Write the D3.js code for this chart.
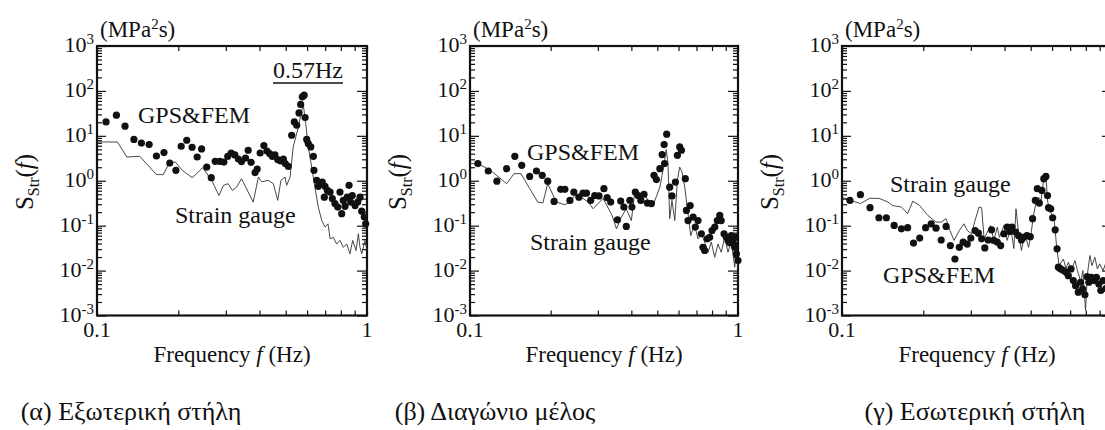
<!DOCTYPE html>
<html>
<head>
<meta charset="utf-8">
<script src="https://cdn.jsdelivr.net/npm/d3@7"></script>
<style>
  body { margin: 0; background: #fff; }
</style>
</head>
<body>
<script>
// x tick values (Hz) and y decades
var xTicks = [0.1, 0.2, 0.3, 0.4, 0.5, 0.6, 0.7, 0.8, 0.9, 1];
var yExps = [-3, -2, -1, 0, 1, 2, 3];
var captions = ['(α) Εξωτερική στήλη', '(β) Διαγώνιο μέλος', '(γ) Εσωτερική στήλη'];

// (α) outer column: [frequency Hz, S MPa^2 s]
var gpsA = [[0.108,20.4],[0.118,28.8],[0.127,16.4],[0.137,8.3],[0.146,6.9],[0.156,6.4],[0.166,3.56],[0.177,4.24],
  [0.186,2.48],[0.196,1.71],[0.205,5.86],[0.215,7.97],[0.225,5.57],[0.235,3.38],[0.244,5.1],[0.255,2.02],[0.265,1.17],
  [0.274,2.71],[0.285,2.71],[0.295,2.61],[0.305,3.5],[0.314,4.15],[0.324,3.75],[0.334,3.05],[0.343,2.67],[0.355,3.21],
  [0.363,4.77],[0.372,2.57],[0.385,1.52],[0.392,1.82],[0.402,4.15],[0.415,6.07],[0.426,4.6],[0.436,4.03],[0.446,3.5],
  [0.456,3.75],[0.467,2.96],[0.479,2.75],[0.49,3.05],[0.498,2.41],[0.511,2.09],[0.526,10.3],[0.538,20.4],[0.549,17.2],
  [0.56,32.4],[0.568,50],[0.576,73.8],[0.585,80.5],[0.59,25.6],[0.598,8.3],[0.606,6.73],[0.619,5.65],[0.633,3.5],
  [0.636,1.71],[0.651,1.02],[0.66,0.75],[0.67,0.86],[0.683,0.935],[0.695,0.43],[0.699,0.75],[0.713,0.61],[0.73,0.56],
  [0.744,0.40],[0.761,0.31],[0.779,0.26],[0.794,0.56],[0.806,0.185],[0.817,0.365],[0.829,0.27],[0.845,0.43],[0.858,0.79],
  [0.87,0.335],[0.882,0.47],[0.903,0.28],[0.924,0.335],[0.942,0.43],[0.956,0.21],[0.977,0.155],[0.989,0.11]];
var sgA = [[0.1,7.3],[0.119,7.3],[0.129,3.38],[0.144,3.5],[0.166,1.37],[0.176,1.37],[0.185,2.48],[0.195,2.61],[0.207,1.71],
  [0.225,1.17],[0.234,1.44],[0.246,1.96],[0.266,1.02],[0.283,0.47],[0.294,0.79],[0.306,0.86],[0.317,0.61],[0.329,0.72],
  [0.343,1.11],[0.379,0.335],[0.396,1.21],[0.407,0.95],[0.431,1.02],[0.45,0.86],[0.467,0.365],[0.48,1.02],[0.497,1.21],
  [0.504,0.79],[0.519,1.21],[0.533,5.65],[0.557,15.8],[0.573,37.3],[0.581,48.2],[0.593,18.8],[0.606,5.65],[0.627,1.71],
  [0.644,0.61],[0.66,0.26],[0.68,0.13],[0.699,0.093],[0.717,0.11],[0.73,0.051],[0.75,0.055],[0.772,0.039],[0.794,0.047],
  [0.817,0.033],[0.841,0.039],[0.865,0.0236],[0.885,0.047],[0.911,0.028],[0.929,0.066],[0.942,0.033],[0.956,0.0236],
  [0.983,0.047],[1.0,0.028]];

// (β) diagonal member
var gpsB = [[0.107,2.41],[0.117,1.65],[0.126,0.98],[0.137,1.86],[0.147,3.5],[0.156,2.21],[0.167,1.25],[0.177,1.65],
  [0.186,1.32],[0.195,0.98],[0.206,0.347],[0.218,0.643],[0.226,0.643],[0.236,0.365],[0.244,0.56],[0.255,0.43],[0.264,0.53],
  [0.272,0.53],[0.282,0.365],[0.292,0.47],[0.303,0.46],[0.316,0.667],[0.325,0.42],[0.335,0.335],[0.355,0.135],[0.365,0.352],
  [0.375,0.26],[0.383,0.096],[0.395,0.365],[0.402,0.26],[0.414,0.56],[0.424,0.47],[0.434,0.365],[0.446,0.50],[0.459,0.318],
  [0.475,0.31],[0.486,1.32],[0.496,1.06],[0.511,1.86],[0.521,3.83],[0.530,6.4],[0.532,2.41],[0.542,10.9],[0.556,0.72],
  [0.567,0.46],[0.584,0.935],[0.594,3.69],[0.606,5.65],[0.615,4.77],[0.636,1.11],[0.642,0.218],[0.651,0.13],[0.663,0.28],
  [0.68,0.155],[0.693,0.093],[0.709,0.13],[0.73,0.066],[0.74,0.033],[0.751,0.028],[0.768,0.051],[0.784,0.055],[0.80,0.078],
  [0.819,0.093],[0.837,0.13],[0.855,0.169],[0.866,0.13],[0.887,0.066],[0.905,0.055],[0.918,0.047],[0.93,0.042],[0.944,0.06],
  [0.95,0.05],[0.958,0.047],[0.965,0.038],[0.972,0.033],[0.978,0.055],[0.986,0.0236],[1.0,0.0167]];
var sgB = [[0.1,2.48],[0.11,2.21],[0.119,1.71],[0.129,1.16],[0.137,0.86],[0.146,1.44],[0.155,1.44],[0.167,0.667],
  [0.179,0.335],[0.187,0.32],[0.195,0.86],[0.21,0.335],[0.226,0.293],[0.236,0.335],[0.246,0.47],[0.26,0.43],[0.276,0.335],
  [0.288,0.238],[0.30,0.31],[0.314,0.40],[0.339,0.169],[0.352,0.085],[0.367,0.155],[0.383,0.238],[0.40,0.13],[0.412,0.56],
  [0.43,0.47],[0.449,0.50],[0.468,0.31],[0.482,0.28],[0.497,0.46],[0.511,0.72],[0.525,1.71],[0.54,4.95],[0.548,2.41],
  [0.556,0.143],[0.567,0.365],[0.581,0.13],[0.594,1.02],[0.606,2.02],[0.618,1.56],[0.633,0.72],[0.651,0.185],[0.666,0.06],
  [0.68,0.085],[0.697,0.078],[0.709,0.051],[0.73,0.066],[0.751,0.043],[0.773,0.0256],[0.795,0.043],[0.819,0.0198],
  [0.842,0.039],[0.866,0.0256],[0.892,0.055],[0.918,0.0256],[0.944,0.047],[0.972,0.0119],[0.989,0.028],[1.0,0.01]];

// (γ) inner column
var gpsC = [[0.107,0.365],[0.117,0.49],[0.127,0.251],[0.137,0.15],[0.146,0.15],[0.156,0.101],[0.166,0.085],[0.175,0.09],
  [0.184,0.041],[0.194,0.053],[0.204,0.09],[0.214,0.11],[0.223,0.088],[0.233,0.048],[0.243,0.096],[0.252,0.036],
  [0.262,0.018],[0.272,0.033],[0.281,0.043],[0.291,0.039],[0.30,0.053],[0.311,0.078],[0.32,0.068],[0.329,0.051],
  [0.338,0.032],[0.348,0.048],[0.358,0.081],[0.365,0.047],[0.376,0.043],[0.387,0.036],[0.398,0.066],[0.409,0.093],
  [0.418,0.074],[0.426,0.093],[0.439,0.072],[0.451,0.06],[0.462,0.048],[0.471,0.055],[0.484,0.06],[0.498,0.057],
  [0.508,0.143],[0.52,0.365],[0.529,0.667],[0.538,0.318],[0.55,0.61],[0.559,1.11],[0.569,1.25],[0.577,0.47],[0.582,0.251],
  [0.593,0.238],[0.603,0.15],[0.616,0.081],[0.626,0.0305],[0.633,0.0119],[0.646,0.0109],[0.661,0.01],[0.676,0.0092],
  [0.689,0.0077],[0.705,0.0109],[0.719,0.006],[0.733,0.0046],[0.75,0.0033],[0.765,0.0055],[0.778,0.0039],[0.794,0.0029],
  [0.809,0.0073],[0.821,0.0055],[0.839,0.0071],[0.859,0.006],[0.876,0.0071],[0.894,0.005],[0.909,0.0036],[0.927,0.006],
  [0.95,0.004],[0.97,0.005]];
var sgC = [[0.1,0.425],[0.117,0.31],[0.127,0.41],[0.138,0.40],[0.148,0.335],[0.154,0.28],[0.166,0.26],[0.175,0.185],
  [0.183,0.352],[0.194,0.28],[0.208,0.169],[0.223,0.12],[0.233,0.12],[0.243,0.143],[0.251,0.078],[0.26,0.047],[0.272,0.078],
  [0.283,0.11],[0.291,0.078],[0.302,0.066],[0.311,0.13],[0.322,0.26],[0.329,0.25],[0.336,0.051],[0.355,0.101],[0.365,0.047],
  [0.376,0.093],[0.383,0.055],[0.398,0.101],[0.409,0.047],[0.422,0.087],[0.433,0.031],[0.441,0.238],[0.451,0.066],
  [0.462,0.028],[0.471,0.052],[0.483,0.047],[0.491,0.033],[0.502,0.07],[0.512,0.169],[0.522,0.31],[0.535,0.425],
  [0.546,0.365],[0.558,1.02],[0.569,1.25],[0.578,0.335],[0.59,0.218],[0.612,0.12],[0.624,0.033],[0.637,0.0129],
  [0.661,0.018],[0.675,0.0111],[0.689,0.0153],[0.707,0.01],[0.729,0.0167],[0.745,0.01],[0.767,0.0055],[0.78,0.01],
  [0.798,0.0013],[0.811,0.0084],[0.828,0.0216],[0.843,0.0129],[0.864,0.0198],[0.883,0.0109],[0.90,0.0141],[0.927,0.01],
  [0.955,0.0167],[1.0,0.0129]];

var width = 1105, height = 430;
var plotTop = 46, plotBottom = 315.5;
var ink = '#111';
var serif = "'Liberation Serif', 'Times New Roman', Times, serif";

var panels = [
  { left: 97,  w: 270, gps: gpsA, sg: sgA, capX: 131,
    notes: [['GPS&FEM', 138, 123], ['Strain gauge', 175, 223], ['0.57Hz', 273, 78]] },
  { left: 470, w: 268, gps: gpsB, sg: sgB, capX: 495,
    notes: [['GPS&FEM', 527, 160], ['Strain gauge', 530, 250]] },
  { left: 842, w: 270, gps: gpsC, sg: sgC, capX: 975,
    notes: [['Strain gauge', 890, 192], ['GPS&FEM', 883, 283]] }
];

var svg = d3.select('body').append('svg')
  .attr('width', width)
  .attr('height', height)
  .attr('font-family', serif)
  .style('display', 'block');

panels.forEach(function(p, i) {
  var x = d3.scaleLog().domain([0.1, 1]).range([p.left, p.left + p.w]);
  var y = d3.scaleLog().domain([1e-3, 1e3]).range([plotBottom, plotTop]);
  var g = svg.append('g');

  var minors = [];
  yExps.slice(0, -1).forEach(function(e) {
    for (var k = 2; k <= 9; k++) minors.push(k * Math.pow(10, e));
  });
  var majors = yExps.map(function(e) { return Math.pow(10, e); });

  // ticks, all pointing inward
  function addAxis(axis, tx, ty) {
    var a = g.append('g').attr('transform', 'translate(' + tx + ',' + ty + ')').call(axis);
    a.select('.domain').remove();
    a.selectAll('line').attr('stroke', ink).attr('stroke-width', 1.2);
  }
  addAxis(d3.axisBottom(x).tickValues(xTicks).tickSize(-5).tickFormat(''), 0, plotBottom);
  addAxis(d3.axisTop(x).tickValues(xTicks).tickSize(-5).tickFormat(''), 0, plotTop);
  addAxis(d3.axisLeft(y).tickValues(majors).tickSize(-9).tickFormat(''), p.left, 0);
  addAxis(d3.axisLeft(y).tickValues(minors).tickSize(-5).tickFormat(''), p.left, 0);
  addAxis(d3.axisRight(y).tickValues(majors).tickSize(-10).tickFormat(''), p.left + p.w, 0);
  addAxis(d3.axisRight(y).tickValues(minors).tickSize(-5).tickFormat(''), p.left + p.w, 0);

  // frame
  g.append('rect')
    .attr('x', p.left).attr('y', plotTop)
    .attr('width', p.w).attr('height', plotBottom - plotTop)
    .attr('fill', 'none').attr('stroke', ink).attr('stroke-width', 2.2);

  // strain gauge line
  var line = d3.line()
    .x(function(d) { return x(d[0]); })
    .y(function(d) { return y(d[1]); });
  g.append('path')
    .datum(p.sg)
    .attr('d', line)
    .attr('fill', 'none')
    .attr('stroke', '#333')
    .attr('stroke-width', 0.9);

  // GPS&FEM dots
  g.selectAll('circle')
    .data(p.gps)
    .enter()
    .append('circle')
    .attr('cx', function(d) { return x(d[0]); })
    .attr('cy', function(d) { return y(d[1]); })
    .attr('r', 3.6)
    .attr('fill', '#111');

  // y tick labels 10^n
  yExps.forEach(function(e) {
    var t = g.append('text')
      .attr('x', p.left - 3)
      .attr('y', y(Math.pow(10, e)) + 6)
      .attr('text-anchor', 'end')
      .attr('fill', ink)
      .style('font-size', '22px');
    t.append('tspan').text('10');
    t.append('tspan').attr('dy', -8).style('font-size', '15px').text(e);
  });

  // x tick labels (only those inside the picture)
  [0.1, 1].forEach(function(v) {
    if (x(v) + 6 > width) return;
    g.append('text').attr('x', x(v)).attr('y', 337).attr('text-anchor', 'middle')
      .attr('fill', ink).style('font-size', '22px').text(v);
  });

  // x title
  var xt = g.append('text')
    .attr('x', p.left + p.w / 2).attr('y', 362)
    .attr('text-anchor', 'middle').attr('fill', ink)
    .style('font-size', '23px');
  xt.append('tspan').text('Frequency ');
  xt.append('tspan').style('font-style', 'italic').text('f');
  xt.append('tspan').text(' (Hz)');

  // unit
  var u = g.append('text')
    .attr('x', p.left + 3).attr('y', 37)
    .attr('fill', ink).style('font-size', '23px');
  u.append('tspan').text('(MPa');
  u.append('tspan').attr('dy', -8).style('font-size', '15px').text('2');
  u.append('tspan').attr('dy', 8).text('s)');

  // y title S_Str(f)
  var yt = g.append('text')
    .attr('transform', 'translate(' + (p.left - 64) + ',182) rotate(-90)')
    .attr('text-anchor', 'middle').attr('fill', ink)
    .style('font-size', '25px');
  yt.append('tspan').text('S');
  yt.append('tspan').attr('dy', 6).style('font-size', '16px').text('Str');
  yt.append('tspan').attr('dy', -6).text('(');
  yt.append('tspan').style('font-style', 'italic').text('f');
  yt.append('tspan').text(')');

  // series annotations
  p.notes.forEach(function(n) {
    var t = g.append('text')
      .attr('x', n[1]).attr('y', n[2])
      .attr('fill', ink).style('font-size', '24px')
      .text(n[0]);
    if (n[0] === '0.57Hz') {
      var bb = t.node().getBBox();
      g.append('line')
        .attr('x1', bb.x).attr('x2', bb.x + bb.width)
        .attr('y1', n[2] + 5).attr('y2', n[2] + 5)
        .attr('stroke', ink).attr('stroke-width', 1.3);
    }
  });

  // caption
  svg.append('text')
    .attr('x', p.capX).attr('y', 420)
    .attr('text-anchor', 'middle').attr('fill', '#111')
    .style('font-size', '26px')
    .text(captions[i]);
});
</script>
</body>
</html>
